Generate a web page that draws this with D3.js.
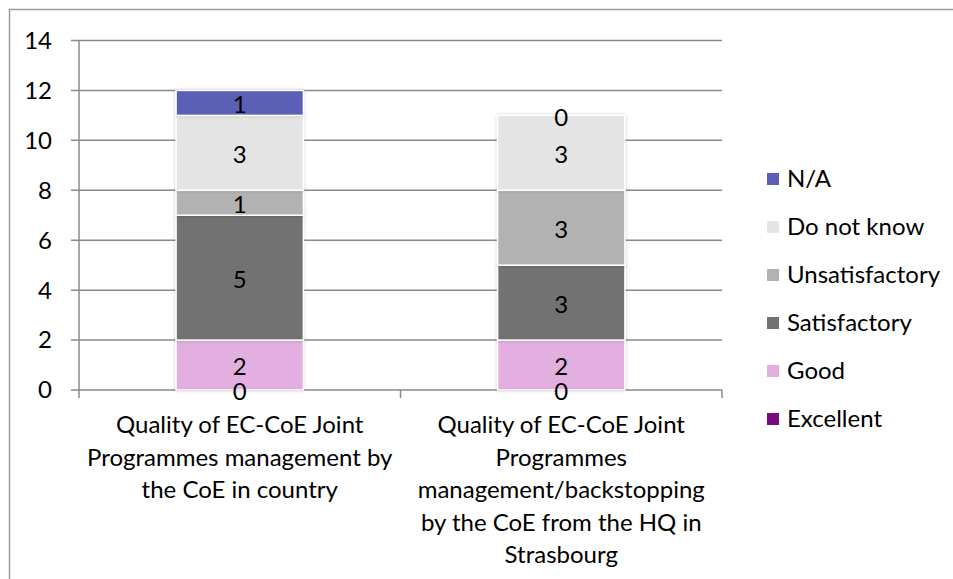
<!DOCTYPE html>
<html>
<head>
<meta charset="utf-8">
<script src="https://cdn.jsdelivr.net/npm/d3@7"></script>
<style>
  html, body { margin: 0; padding: 0; background: #fff; }
  svg { display: block; font-family: Lato, "Open Sans", sans-serif; }
</style>
</head>
<body>
<svg id="chart" width="953" height="579"></svg>
<script>
// ---- data ----
const categories = [
  "Quality of EC-CoE Joint Programmes management by the CoE in country",
  "Quality of EC-CoE Joint Programmes management/backstopping by the CoE from the HQ in Strasbourg"
];
const categoryLines = [
  ["Quality of EC-CoE Joint", "Programmes management by", "the CoE in country"],
  ["Quality of EC-CoE Joint", "Programmes", "management/backstopping", "by the CoE from the HQ in", "Strasbourg"]
];
const seriesNames = ["Excellent", "Good", "Satisfactory", "Unsatisfactory", "Do not know", "N/A"];
const excellent      = [0, 0];
const good           = [2, 2];
const satisfactory   = [5, 3];
const unsatisfactory = [1, 3];
const doNotKnow      = [3, 3];
const notApplicable  = [1, 0];
const seriesColors = ["#7a0b7a", "#e2afe0", "#727272", "#b2b2b2", "#e4e4e4", "#5c5fb6"];
const yTicks = [0, 2, 4, 6, 8, 10, 12, 14];

// ---- build table ----
const seriesValues = [excellent, good, satisfactory, unsatisfactory, doNotKnow, notApplicable];
const table = categories.map((c, i) => {
  const row = { category: c };
  seriesNames.forEach((s, k) => row[s] = seriesValues[k][i]);
  return row;
});
const stacked = d3.stack().keys(seriesNames)(table);

const svg = d3.select("#chart");
const plotLeft = 79, plotRight = 722, plotTop = 40, plotBottom = 390;
const fs = 24;

const x = d3.scaleBand().domain(categories).range([plotLeft, plotRight]).padding(0);
const y = d3.scaleLinear().domain([0, 14]).range([plotBottom, plotTop + 0.5]);
const barW = x.bandwidth() * 0.396;
const color = d3.scaleOrdinal().domain(seriesNames).range(seriesColors);

// outer border
svg.append("rect").attr("x", 9.5).attr("y", 9.5).attr("width", 960).attr("height", 600)
  .attr("fill", "none").attr("stroke", "#9a9a9a").attr("stroke-width", 1.5);

// gridlines
svg.append("g").selectAll("line").data(yTicks).join("line")
  .attr("x1", plotLeft - 8).attr("x2", plotRight)
  .attr("y1", d => y(d)).attr("y2", d => y(d))
  .attr("stroke", "#8a8a8a").attr("stroke-width", 1.5);

// y axis line
svg.append("line").attr("x1", plotLeft).attr("x2", plotLeft).attr("y1", y(14)).attr("y2", plotBottom + 8)
  .attr("stroke", "#8a8a8a").attr("stroke-width", 1.5);

// category boundary ticks
const boundaries = [plotRight, ...categories.slice(1).map(c => x(c))];
svg.append("g").selectAll("line").data(boundaries).join("line")
  .attr("x1", d => d).attr("x2", d => d).attr("y1", plotBottom).attr("y2", plotBottom + 8)
  .attr("stroke", "#8a8a8a").attr("stroke-width", 1.5);

// y tick labels
svg.append("g").selectAll("text").data(yTicks).join("text")
  .attr("x", 52).attr("y", d => y(d)).attr("dy", "0.35em")
  .attr("text-anchor", "end").attr("font-size", fs).attr("fill", "#000")
  .text(d => d);

// shadow filter
const defs = svg.append("defs");
const f = defs.append("filter").attr("id", "shadow").attr("x", "-10%").attr("y", "-10%").attr("width", "120%").attr("height", "120%");
f.append("feDropShadow").attr("dx", 0).attr("dy", 0).attr("stdDeviation", 1.5).attr("flood-color", "#000").attr("flood-opacity", 0.25);

// bars
const layers = svg.append("g").selectAll("g").data(stacked).join("g")
  .attr("fill", d => color(d.key));
layers.selectAll("rect").data(d => d.map(v => ({ v, key: d.key }))).join("rect")
  .attr("x", d => x(d.v.data.category) + (x.bandwidth() - barW) / 2)
  .attr("y", d => y(d.v[1]))
  .attr("width", barW)
  .attr("height", d => y(d.v[0]) - y(d.v[1]))
  .attr("stroke", "#fff").attr("stroke-width", 1.5)
  .attr("filter", "url(#shadow)");

// value labels
const labelG = svg.append("g");
stacked.forEach(layer => {
  layer.forEach(v => {
    labelG.append("text")
      .attr("x", x(v.data.category) + x.bandwidth() / 2)
      .attr("y", y((v[0] + v[1]) / 2) + 2)
      .attr("dy", "0.35em")
      .attr("text-anchor", "middle").attr("font-size", fs).attr("fill", "#000")
      .text(v[1] - v[0]);
  });
});

// category labels
const catG = svg.append("g");
categories.forEach((c, i) => {
  const t = catG.append("text")
    .attr("x", x(c) + x.bandwidth() / 2)
    .attr("y", 433)
    .attr("text-anchor", "middle").attr("font-size", fs).attr("fill", "#000");
  categoryLines[i].forEach((line, j) => {
    t.append("tspan").attr("x", x(c) + x.bandwidth() / 2).attr("y", 433 + j * 32.5).text(line);
  });
});

// legend (top to bottom: reverse order)
const legendItems = seriesNames.slice().reverse();
const lg = svg.append("g").selectAll("g").data(legendItems).join("g")
  .attr("transform", (d, i) => `translate(767, ${179 + i * 48})`);
lg.append("rect").attr("x", 0).attr("y", -6).attr("width", 12).attr("height", 12)
  .attr("fill", d => color(d));
lg.append("text").attr("x", 20).attr("y", 0).attr("dy", "0.35em")
  .attr("font-size", fs).attr("fill", "#000").text(d => d);
</script>
</body>
</html>
